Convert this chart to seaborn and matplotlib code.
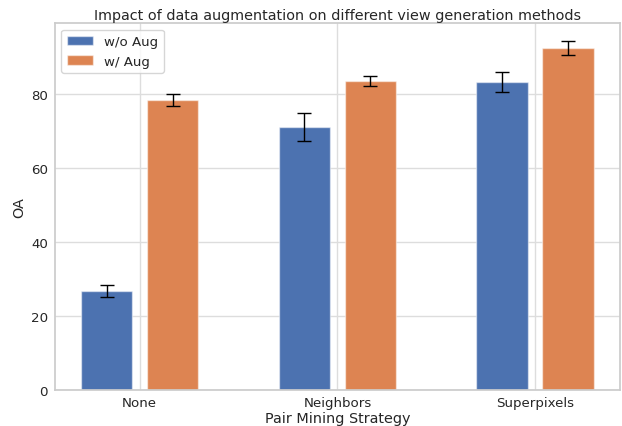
import matplotlib
matplotlib.use("Agg")
import matplotlib.pyplot as plt
import seaborn as sns
import pandas as pd

strategies = ["None", "Neighbors", "Superpixels"]
groups = ["w/o Aug", "w/ Aug"]
oa_without = [26.7, 71.0, 83.1]
oa_with = [78.3, 83.4, 92.3]
err_without = [1.7, 3.7, 2.7]
err_with = [1.6, 1.4, 2.0]

sns.set_theme(style="whitegrid")

df = pd.DataFrame({
    "strategy": strategies * 2,
    "group": [groups[0]] * 3 + [groups[1]] * 3,
    "OA": oa_without + oa_with,
})

fig, ax = plt.subplots(figsize=(6.22, 4.27), dpi=100)
sns.barplot(data=df, x="strategy", y="OA", hue="group", order=strategies,
            hue_order=groups, width=0.667, gap=0.22, errorbar=None, ax=ax,
            palette=sns.color_palette("deep")[:2], saturation=1,
            edgecolor=(1, 1, 1, 0.5), linewidth=1)

for container, errs in zip(ax.containers, [err_without, err_with]):
    xs = [p.get_x() + p.get_width() / 2 for p in container]
    ys = [p.get_height() for p in container]
    ax.errorbar(xs, ys, yerr=errs, fmt="none", ecolor="black",
                elinewidth=1, capsize=5, capthick=1)

ax.set_xlim(-0.43, 2.43)
ax.set_ylim(0, 99.1)
ax.grid(True, axis="both", color="#dddddd", linewidth=1)
ax.set_axisbelow(True)
for s in ax.spines.values():
    s.set_color("#cccccc")
ax.set_title("Impact of data augmentation on different view generation methods",
             fontsize=10.4, pad=3)
ax.set_xlabel("Pair Mining Strategy", fontsize=10.4, labelpad=1.5)
ax.set_ylabel("OA", fontsize=10.4, labelpad=3)
ax.tick_params(axis="x", labelsize=9.6, pad=4.5, length=0)
ax.tick_params(axis="y", labelsize=9.6, pad=5, length=0)
ax.legend(loc="upper left", fontsize=9.6)

fig.subplots_adjust(left=0.088, right=0.997, top=0.944, bottom=0.085)
fig.savefig("out.png", dpi=100)
